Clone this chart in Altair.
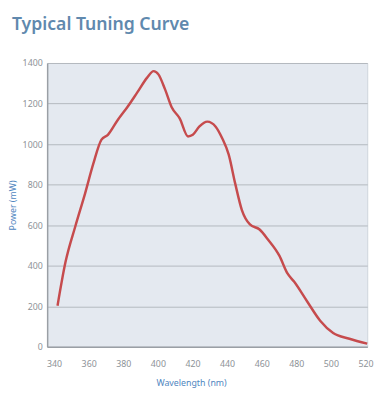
import altair as alt
import pandas as pd

wavelength = [342, 346.6, 352.3, 357.9, 362.6, 367.4, 371.1, 376.8, 382.4, 388.1, 393.8, 397.5,
              400.3, 404.1, 407.9, 412.6, 417.4, 420.2, 423.9, 428.6, 433.4, 437.1, 440.9, 444.7,
              448.5, 453.2, 458.8, 463.5, 470.2, 474.9, 478.7, 486.2, 493.8, 501.3, 510.7, 521]
power = [203, 418, 595, 756, 901, 1022, 1046, 1119, 1183, 1255, 1328, 1360,
         1344, 1271, 1183, 1127, 1038, 1046, 1086, 1111, 1086, 1030, 949, 805,
         676, 604, 579, 531, 450, 362, 322, 225, 129, 68, 40, 16]
x_ticks = [340, 360, 380, 400, 420, 440, 460, 480, 500, 520]
y_ticks = [0, 200, 400, 600, 800, 1000, 1200, 1400]

df = pd.DataFrame({"Wavelength": wavelength, "Power": power})

chart = alt.Chart(df).mark_line(
    color="#c64b4d", strokeWidth=2.5, interpolate="monotone"
).encode(
    x=alt.X("Wavelength:Q", scale=alt.Scale(domain=[336, 521], nice=False, zero=False),
            axis=alt.Axis(values=x_ticks, title="Wavelength (nm)", grid=False, format="d",
                          labelPadding=13, titleX=147, titleY=32)),
    y=alt.Y("Power:Q", scale=alt.Scale(domain=[0, 1400], nice=False),
            axis=alt.Axis(values=y_ticks, title="Power (mW)", format="d",
                          labelPadding=5, titleX=-30)),
).properties(
    width=327, height=290,
    autosize=alt.AutoSizeParams(type="none"),
    padding={"left": 40, "top": 52, "right": 11, "bottom": 46},
    title=alt.TitleParams("Typical Tuning Curve", anchor="start", frame="group",
                          dx=-36, fontSize=18, font="Noto Sans", fontWeight=600,
                          color="#6089ae", offset=26),
).configure_view(
    fill="#e4e9f0", stroke="#cfd5dc", strokeWidth=1
).configure_axis(
    labelFont="Noto Sans", labelFontSize=9, labelColor="#8d9297",
    titleFont="Noto Sans", titleFontSize=9, titleColor="#4f86c0", titleFontWeight="normal",
    domainColor="#9a9fa5", domainWidth=1.5, ticks=False,
    gridColor="#b3b8be", gridWidth=1
)

chart.save("out.html", embed_options={"renderer": "svg", "actions": False})
